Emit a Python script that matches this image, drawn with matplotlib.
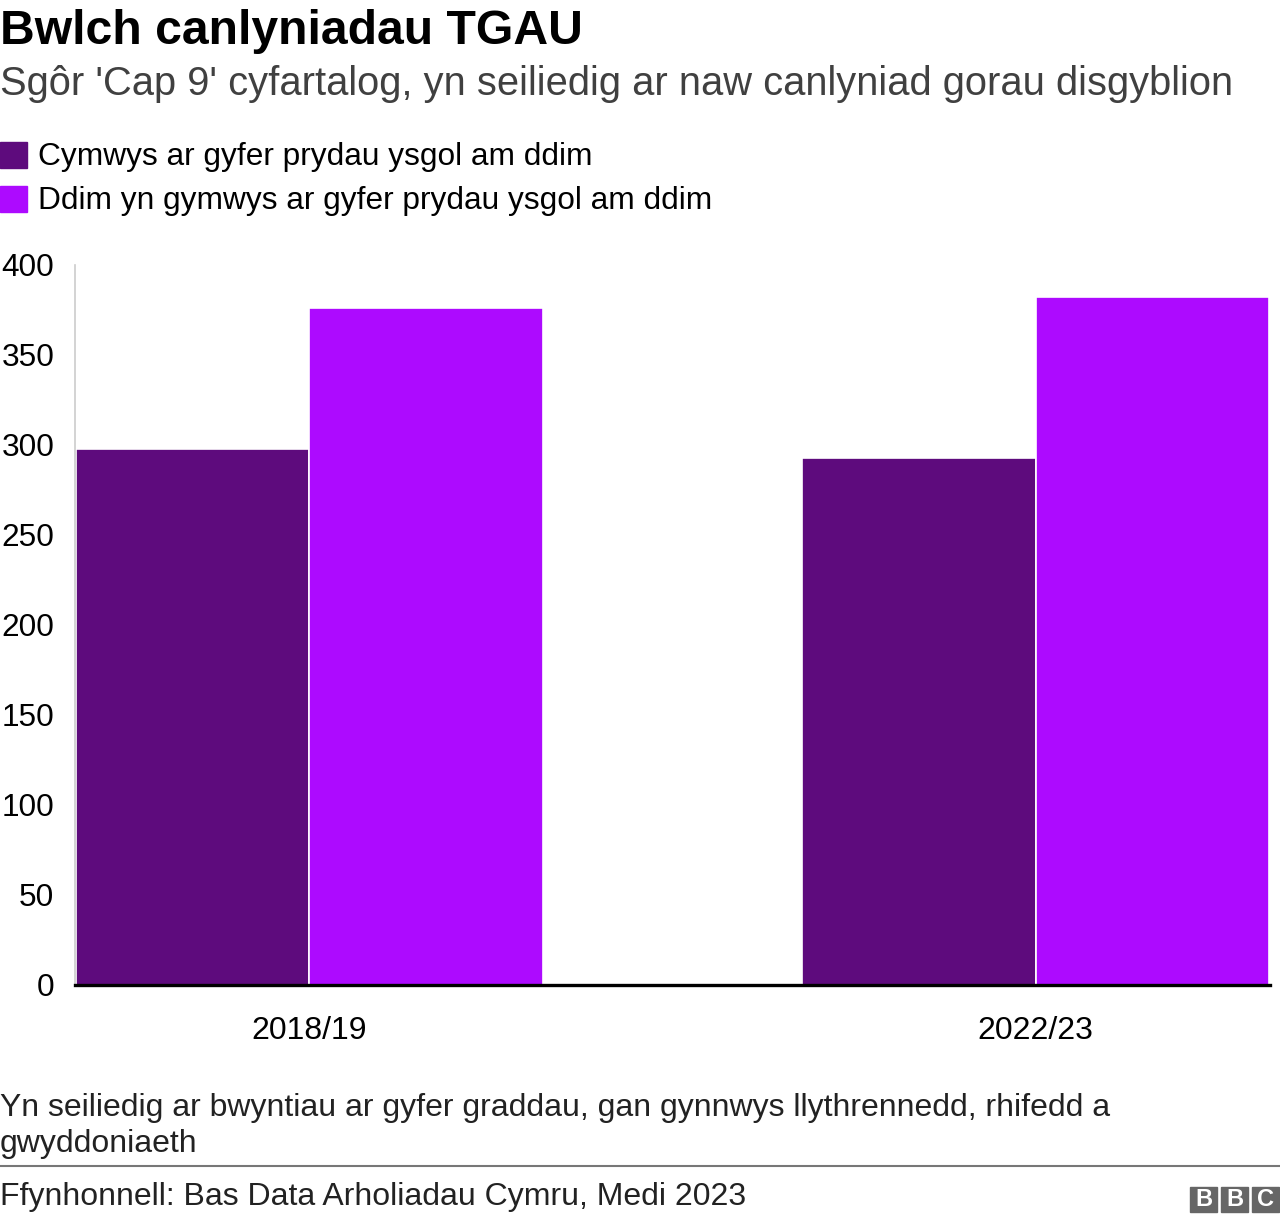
import matplotlib

matplotlib.use("Agg")

import matplotlib.pyplot as plt
import numpy as np
from matplotlib.patches import Rectangle

plt.rcParams["font.family"] = ["Liberation Sans", "DejaVu Sans"]

TITLE = "Bwlch canlyniadau TGAU"
SUBTITLE = "Sgôr 'Cap 9' cyfartalog, yn seiliedig ar naw canlyniad gorau disgyblion"
NOTE = "Yn seiliedig ar bwyntiau ar gyfer graddau, gan gynnwys llythrennedd, rhifedd a\ngwyddoniaeth"
SOURCE = "Ffynhonnell: Bas Data Arholiadau Cymru, Medi 2023"

years = ["2018/19", "2022/23"]
series_names = [
    "Cymwys ar gyfer prydau ysgol am ddim",
    "Ddim yn gymwys ar gyfer prydau ysgol am ddim",
]
eligible = [298, 293]
not_eligible = [376, 382]
colors = ["#5e0b7d", "#ad0aff"]
y_ticks = [0, 50, 100, 150, 200, 250, 300, 350, 400]

W, H = 1280, 1222
fig = plt.figure(figsize=(W / 100, H / 100), dpi=100)


def fx(px):
    return px / W


def fy(py):
    return 1 - py / H


ax = fig.add_axes([fx(75), fy(985), fx(1270 - 75), (985 - 265) / H])

x = np.arange(len(years))
width = 0.322
ax.bar(x - width / 2, eligible, width, color=colors[0], edgecolor="white", linewidth=1.2)
ax.bar(x + width / 2, not_eligible, width, color=colors[1], edgecolor="white", linewidth=1.2)

ax.set_xlim(-0.323, 1.323)
ax.set_ylim(0, 400)
ax.set_yticks(y_ticks)
ax.set_xticks(x)
ax.set_xticklabels(years)
ax.tick_params(axis="y", length=0, pad=15, labelsize=22.8)
ax.tick_params(axis="x", length=0, pad=22, labelsize=23)
for s in ["top", "right"]:
    ax.spines[s].set_visible(False)
ax.spines["left"].set_color("#cccccc")
ax.spines["left"].set_linewidth(1.2)
ax.spines["bottom"].set_color("black")
ax.spines["bottom"].set_linewidth(2.4)
ax.spines["bottom"].set_zorder(5)

fig.text(fx(0), fy(32), TITLE, fontsize=34.7, fontweight="bold", va="center", ha="left")
fig.text(fx(0), fy(84), SUBTITLE, fontsize=28.7, color="#404040", va="center", ha="left")

for i, (name, c) in enumerate(zip(series_names, colors)):
    ycen = 155 + i * 44
    fig.patches.append(Rectangle((fx(0), fy(ycen + 13)), fx(27), 26 / H, color=c,
                                 transform=fig.transFigure))
    fig.text(fx(38), fy(ycen + 2), name, fontsize=22.8, va="center", ha="left")

fig.text(fx(0), fy(1126), NOTE, fontsize=23, va="center", ha="left", linespacing=1.3,
         color="#222222")
fig.add_artist(plt.Line2D([0, 1], [fy(1166), fy(1166)], color="#777777", linewidth=1.5,
                          transform=fig.transFigure))
fig.text(fx(0), fy(1197), SOURCE, fontsize=23, va="center", ha="left", color="#222222")

for i, letter in enumerate("BBC"):
    left = 1190 + i * 31
    fig.patches.append(Rectangle((fx(left), fy(1212)), fx(27), 25 / H, color="#666666",
                                 transform=fig.transFigure))
    fig.text(fx(left + 13.5), fy(1199.5), letter, fontsize=17, fontweight="bold",
             color="white", ha="center", va="center")

fig.savefig("out.png", dpi=100)
